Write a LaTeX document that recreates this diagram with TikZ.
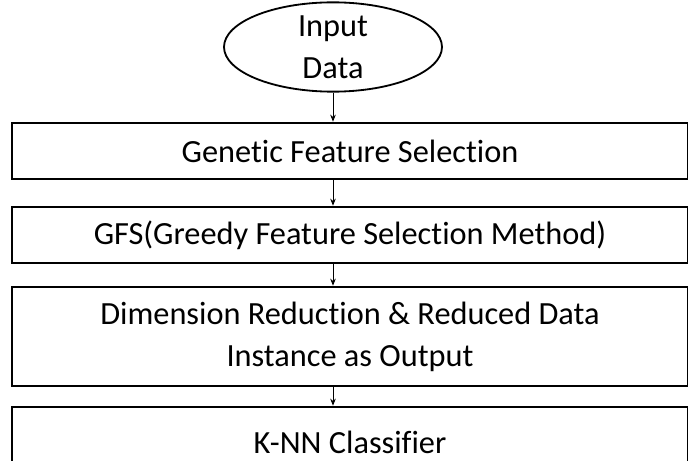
\documentclass[tikz,border=0pt]{standalone}
\usepackage{fontspec}
\setmainfont{Carlito}[Ligatures=NoCommon]
\usetikzlibrary{shapes.geometric,arrows.meta}

\begin{document}
\begin{tikzpicture}[stepbox/.style={draw,line width=1.9pt,minimum width=16.9cm,minimum height=#1,
    align=center,inner sep=0pt,font=\fontsize{23}{30}\selectfont},
  stepbox/.default=1.4cm,
  startnode/.style={ellipse,draw,line width=1.3pt,minimum width=5.45cm,minimum height=2.05cm,
    inner sep=0pt,align=center,font=\fontsize{23}{30}\selectfont},
  flow/.style={-{Stealth[length=5pt,width=4pt]},line width=0.6pt}]

\useasboundingbox (0,0) rectangle (17.2,-11.525);

\node [startnode] (input) at (8.325,-1.175) {Input\\Data};

\node [stepbox] (genetic) at (8.75,-3.775) {Genetic Feature Selection};
\node [stepbox] (gfs) at (8.75,-5.875) {GFS(Greedy Feature Selection Method)};
\node [stepbox=2.475cm] (reduce) at (8.75,-8.4125) {Dimension Reduction \& Reduced Data\\Instance as Output};
\node [stepbox=1.75cm] (knn) at (8.75,-11.05) {K-NN Classifier};

\draw[flow] (input.south) -- (input |- genetic.north);
\draw[flow] (genetic.south -| input) -- (gfs.north -| input);
\draw[flow] (gfs.south -| input) -- (reduce.north -| input);
\draw[flow] (reduce.south -| input) -- (knn.north -| input);
\end{tikzpicture}
\end{document}
